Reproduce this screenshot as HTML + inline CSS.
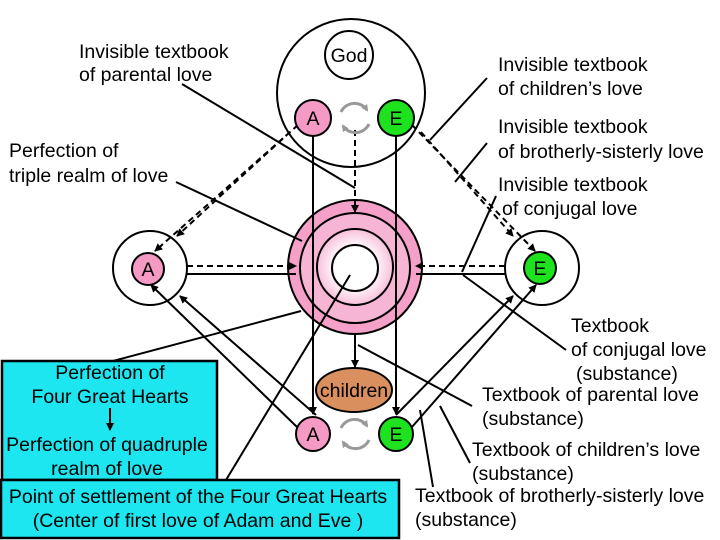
<!DOCTYPE html>
<html><head><meta charset="utf-8"><style>
html,body{margin:0;padding:0;background:#fff;}
svg{display:block;font-family:"Liberation Sans",Arial,sans-serif;}
text{font-size:19.5px;fill:#000;}
</style></head><body>
<svg width="720" height="540" viewBox="0 0 720 540" xmlns="http://www.w3.org/2000/svg">
<defs>
<marker id="ar" markerWidth="8" markerHeight="8" refX="7" refY="4" orient="auto" markerUnits="userSpaceOnUse">
<path d="M0,0 L8,4 L0,8 Z" fill="#000"/></marker>
<marker id="gr" markerWidth="7" markerHeight="7" refX="5" refY="3.5" orient="auto" markerUnits="userSpaceOnUse">
<path d="M0,0 L7,3.5 L0,7 Z" fill="#999"/></marker>
<radialGradient id="pg"><stop offset="0.5" stop-color="#fff"/><stop offset="1" stop-color="#f8c0dc"/></radialGradient>
</defs>

<rect x="2" y="361" width="215" height="119" fill="#1ee6f0" stroke="#000" stroke-width="2.5"/>
<rect x="1" y="480" width="398" height="58" fill="#1ee6f0" stroke="#000" stroke-width="2.5"/>

<circle cx="351" cy="93" r="74" fill="#fff" stroke="#000" stroke-width="2"/>
<circle cx="349" cy="55" r="24" fill="#fff" stroke="#000" stroke-width="2"/>
<text x="349" y="62" text-anchor="middle">God</text>

<circle cx="355" cy="267" r="67" fill="#f4a0c8" stroke="#000" stroke-width="2"/>
<circle cx="355" cy="268" r="55" fill="#f7b5d6" stroke="#000" stroke-width="2"/>
<circle cx="355" cy="267" r="38" fill="url(#pg)" stroke="#000" stroke-width="2"/>
<circle cx="355" cy="268" r="23" fill="#fff" stroke="#000" stroke-width="2"/>

<circle cx="150" cy="268" r="37" fill="#fff" stroke="#000" stroke-width="2"/>
<circle cx="542" cy="268" r="37" fill="#fff" stroke="#000" stroke-width="2"/>

<g stroke="#000" stroke-width="2" fill="none">
<line x1="313" y1="136" x2="313" y2="414" marker-end="url(#ar)"/>
<line x1="396" y1="136" x2="396" y2="414" marker-end="url(#ar)"/>
<line x1="355" y1="130" x2="355" y2="212" stroke-dasharray="6,4" marker-end="url(#ar)"/>
<line x1="355" y1="335" x2="355" y2="367" marker-end="url(#ar)"/>
<line x1="298" y1="125" x2="155" y2="251" stroke-dasharray="6,4" marker-end="url(#ar)"/>
<line x1="290" y1="132" x2="177" y2="236" stroke-dasharray="6,4" marker-end="url(#ar)"/>
<line x1="412" y1="125" x2="535" y2="251" stroke-dasharray="6,4" marker-end="url(#ar)"/>
<line x1="421" y1="132" x2="513" y2="236" stroke-dasharray="6,4" marker-end="url(#ar)"/>
<line x1="187" y1="266" x2="296" y2="266" stroke-dasharray="6,4" marker-end="url(#ar)"/>
<line x1="187" y1="274" x2="296" y2="274"/>
<line x1="505" y1="266" x2="416" y2="266" stroke-dasharray="6,4" marker-end="url(#ar)"/>
<line x1="505" y1="274" x2="416" y2="274"/>
<line x1="297" y1="427" x2="151" y2="285" marker-end="url(#ar)"/>
<line x1="316" y1="415" x2="180" y2="296" marker-end="url(#ar)"/>
<line x1="412" y1="427" x2="536" y2="285" marker-end="url(#ar)"/>
<line x1="396" y1="415" x2="513" y2="296" marker-end="url(#ar)"/>
<line x1="182" y1="84" x2="355" y2="188"/>
<line x1="176" y1="182" x2="302" y2="241"/>
<line x1="487" y1="78" x2="430" y2="140"/>
<line x1="487" y1="143" x2="455" y2="182"/>
<line x1="496" y1="196" x2="462" y2="272"/>
<line x1="566" y1="350" x2="463" y2="275"/>
<line x1="472" y1="406" x2="358" y2="345"/>
<line x1="470" y1="463" x2="440" y2="406"/>
<line x1="433" y1="487" x2="420" y2="410"/>
<line x1="113" y1="361" x2="301" y2="311"/>
<line x1="226" y1="480" x2="350" y2="275"/>
<line x1="110" y1="408" x2="110" y2="430" marker-end="url(#ar)"/>
</g>

<g stroke="#000" stroke-width="2">
<circle cx="313" cy="118" r="18" fill="#f49ac4"/>
<circle cx="396" cy="118" r="18" fill="#1de21d"/>
<circle cx="148" cy="269" r="16" fill="#f49ac4"/>
<circle cx="540" cy="268" r="16" fill="#1de21d"/>
<circle cx="313" cy="434" r="17" fill="#f49ac4"/>
<circle cx="396" cy="434" r="17" fill="#1de21d"/>
<ellipse cx="354" cy="390" rx="38" ry="22" fill="#d9905e"/>
</g>
<g stroke="#999" stroke-width="3" fill="none">
<path d="M341,112 A15,15 0 0 1 367,110" marker-end="url(#gr)"/>
<path d="M369,124 A15,15 0 0 1 343,126" marker-end="url(#gr)"/>
<path d="M341,428 A15,15 0 0 1 367,426" marker-end="url(#gr)"/>
<path d="M369,440 A15,15 0 0 1 343,442" marker-end="url(#gr)"/>
</g>
<g text-anchor="middle">
<text x="313" y="125">A</text><text x="396" y="125">E</text>
<text x="148" y="276">A</text><text x="540" y="275">E</text>
<text x="313" y="441">A</text><text x="396" y="441">E</text>
<text x="354" y="397" font-size="19">children</text>
</g>

<text x="79" y="58">Invisible textbook</text>
<text x="79" y="81">of parental love</text>
<text x="498" y="71">Invisible textbook</text>
<text x="498" y="95">of children’s love</text>
<text x="498" y="133">Invisible textbook</text>
<text x="498" y="158">of brotherly-sisterly love</text>
<text x="498" y="191">Invisible textbook</text>
<text x="502" y="215">of conjugal love</text>
<text x="9" y="157">Perfection of</text>
<text x="9" y="182">triple realm of love</text>
<text x="571" y="332">Textbook</text>
<text x="571" y="356">of conjugal love</text>
<text x="576" y="380">(substance)</text>
<text x="482" y="401">Textbook of parental love</text>
<text x="482" y="425">(substance)</text>
<text x="472" y="456">Textbook of children’s love</text>
<text x="472" y="480">(substance)</text>
<text x="415" y="502">Textbook of brotherly-sisterly love</text>
<text x="415" y="526">(substance)</text>
<g text-anchor="middle">
<text x="110" y="379">Perfection of</text>
<text x="110" y="403">Four Great Hearts</text>
<text x="107" y="451">Perfection of quadruple</text>
<text x="107" y="475">realm of love</text>
<text x="198" y="503">Point of settlement of the Four Great Hearts</text>
<text x="198" y="527">(Center of first love of Adam and Eve )</text>
</g>
</svg>
</body></html>
